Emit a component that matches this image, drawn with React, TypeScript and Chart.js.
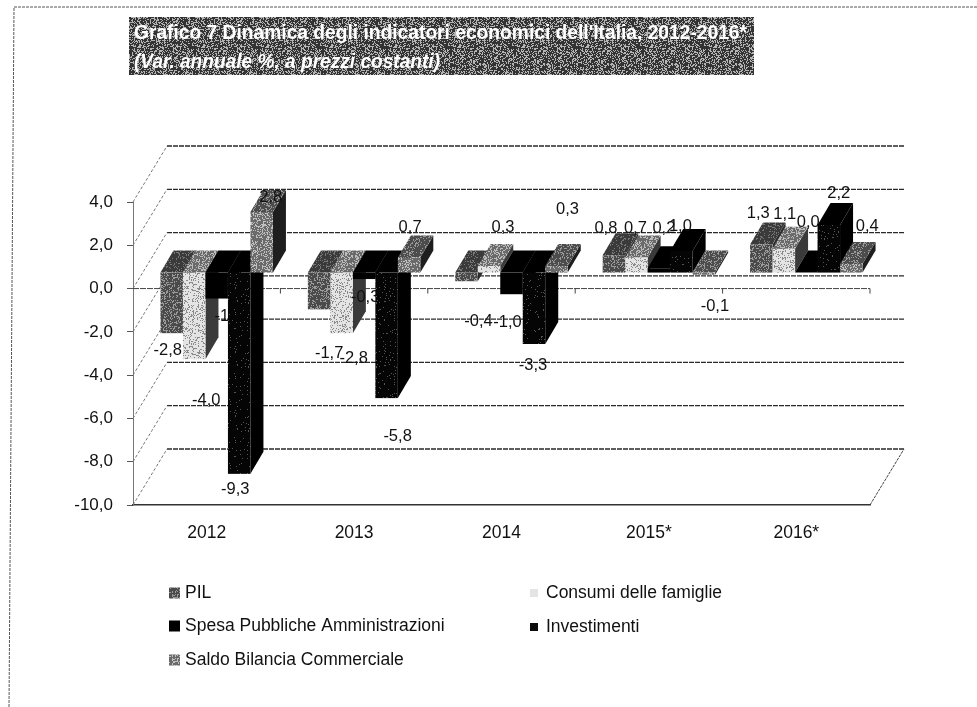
import React, { useEffect, useRef } from "react";
import { Chart, registerables } from "chart.js";

Chart.register(...registerables);

const categories = ["2012", "2013", "2014", "2015*", "2016*"];
const seriesNames = [
  "PIL",
  "Consumi delle famiglie",
  "Spesa Pubbliche Amministrazioni",
  "Investimenti",
  "Saldo Bilancia Commerciale",
];
const pil = [-2.8, -1.7, -0.4, 0.8, 1.3];
const consumi = [-4.0, -2.8, 0.3, 0.7, 1.1];
const spesa = [-1.2, -0.3, -1.0, 0.2, 0.0];
const investimenti = [-9.3, -5.8, -3.3, 1.0, 2.2];
const saldo = [2.8, 0.7, 0.3, -0.1, 0.4];
const seriesValues = [pil, consumi, spesa, investimenti, saldo];

const titleLine1 = "Grafico 7 Dinamica degli indicatori economici dell'Italia, 2012-2016*";
const titleLine2 = "(Var. annuale %, a prezzi costanti)";

// Label nudges [dx, dy] from each bar's end, per series then category
const labelNudges: number[][][] = [
  [[-4, 17], [10, 44], [12, 40], [-8, -27], [-3, -31]],
  [[12, 41], [12, 25], [14, -39], [-1, -29], [1, -34]],
  [[12, 18], [1, 18], [-4, 28], [5, -40], [2, -50]],
  [[-4, 16], [11, 38], [-1, 21], [-1, -24], [10, -32]],
  [[9, -15], [1, -30], [11, -57], [11, 32], [16, -37]],
];

const FONT = '"Liberation Sans", Arial, sans-serif';
const WALL = { dx: 34, dy: 56 };
const BAR_FRONT = { dx: 10, dy: 16 };
const BAR_DEPTH = { dx: 13, dy: 22 };

function hash(x: number, y: number) {
  const v = Math.sin(x * 127.1 + y * 311.7) * 43758.5453;
  return v - Math.floor(v);
}

function speckle(base: string, fleck: string, density: number) {
  const c = document.createElement("canvas");
  c.width = 64;
  c.height = 64;
  const g = c.getContext("2d")!;
  g.fillStyle = base;
  g.fillRect(0, 0, 64, 64);
  g.fillStyle = fleck;
  for (let y = 0; y < 64; y++)
    for (let x = 0; x < 64; x++) if (hash(x, y) < density) g.fillRect(x, y, 1, 1);
  return c;
}

const fmt = (v: number) => v.toFixed(1).replace(".", ",");

function poly(ctx: CanvasRenderingContext2D, pts: number[][], fill: any) {
  ctx.fillStyle = fill;
  ctx.beginPath();
  pts.forEach((p, i) => (i ? ctx.lineTo(p[0], p[1]) : ctx.moveTo(p[0], p[1])));
  ctx.closePath();
  ctx.fill();
}

const makeScene = (faces: any[], bannerFill: any) => ({
  id: "scene3d",
  beforeDatasetsDraw(chart: any) {
    const ctx: CanvasRenderingContext2D = chart.ctx;
    const { x, y } = chart.scales;
    const L = x.left;
    const R = x.right;
    ctx.save();
    // page frame
    ctx.strokeStyle = "#555";
    ctx.lineWidth = 1;
    ctx.setLineDash([3, 1]);
    ctx.beginPath();
    ctx.moveTo(977, 7);
    ctx.lineTo(14, 7);
    ctx.lineTo(9, 707);
    ctx.stroke();

    // back wall lines and diagonals
    y.ticks.forEach((t: any) => {
      const py = y.getPixelForValue(t.value);
      ctx.setLineDash([5, 1]);
      ctx.strokeStyle = "#2a2a2a";
      ctx.lineWidth = 1.3;
      ctx.beginPath();
      ctx.moveTo(L + WALL.dx, py - WALL.dy);
      ctx.lineTo(R + WALL.dx, py - WALL.dy);
      ctx.stroke();
      ctx.setLineDash([3, 2]);
      ctx.strokeStyle = "#777";
      ctx.lineWidth = 1;
      ctx.beginPath();
      ctx.moveTo(L, py);
      ctx.lineTo(L + WALL.dx, py - WALL.dy);
      ctx.stroke();
    });
    // floor right edge
    ctx.setLineDash([3, 1]);
    ctx.strokeStyle = "#444";
    ctx.beginPath();
    ctx.moveTo(R, y.bottom);
    ctx.lineTo(R + WALL.dx, y.bottom - WALL.dy);
    ctx.stroke();
    // zero axis with ticks
    const y0 = y.getPixelForValue(0);
    ctx.setLineDash([6, 1]);
    ctx.strokeStyle = "#444";
    ctx.beginPath();
    ctx.moveTo(L, y0);
    ctx.lineTo(R, y0);
    ctx.stroke();
    ctx.setLineDash([]);
    const step = (R - L) / categories.length;
    for (let i = 1; i <= categories.length; i++) {
      ctx.beginPath();
      ctx.moveTo(L + step * i, y0);
      ctx.lineTo(L + step * i, y0 + 5);
      ctx.stroke();
    }
    ctx.restore();

    // title banner
    ctx.save();
    ctx.fillStyle = bannerFill;
    ctx.fillRect(129, 17, 625, 58);
    ctx.fillStyle = "#fff";
    ctx.textBaseline = "middle";
    ctx.textAlign = "left";
    ctx.font = `bold 21px ${FONT}`;
    ctx.fillText(titleLine1, 134, 33, 613);
    ctx.font = `italic bold 21px ${FONT}`;
    ctx.fillText(titleLine2, 134, 62, 306);
    ctx.restore();

    // legend
    const rows = [
      [0, 169, 593],
      [1, 530, 593],
      [2, 169, 626],
      [3, 530, 627],
      [4, 169, 660],
    ];
    ctx.save();
    ctx.font = `17.5px ${FONT}`;
    ctx.textBaseline = "middle";
    ctx.textAlign = "left";
    rows.forEach(([i, lx, ly]) => {
      const column2 = lx > 300;
      ctx.fillStyle = i === 1 ? "#e4e4e4" : i === 0 || i === 4 ? faces[i].front : chart.data.datasets[i].backgroundColor;
      const size = column2 ? 8 : 11;
      ctx.fillRect(lx, ly - size / 2, size, size);
      ctx.fillStyle = "#111";
      ctx.fillText(chart.data.datasets[i].label, column2 ? 546 : 185, ly);
    });
    ctx.restore();
  },
  beforeDatasetDraw() {
    return false;
  },
  afterDatasetsDraw(chart: any) {
    const ctx: CanvasRenderingContext2D = chart.ctx;
    const y = chart.scales.y;
    const y0 = y.getPixelForValue(0) - BAR_FRONT.dy;
    chart.data.datasets.forEach((ds: any, s: number) => {
      const meta = chart.getDatasetMeta(s);
      meta.data.forEach((el: any, c: number) => {
        const xl = el.x - el.width / 2 + BAR_FRONT.dx;
        const xr = xl + el.width;
        const end = el.y - BAR_FRONT.dy;
        const top = Math.min(end, y0);
        const bot = Math.max(end, y0);
        const d = BAR_DEPTH;
        const f = faces[s];
        poly(ctx, [[xr, top], [xr + d.dx, top - d.dy], [xr + d.dx, bot - d.dy], [xr, bot]], f.side);
        poly(ctx, [[xl, top], [xr, top], [xr + d.dx, top - d.dy], [xl + d.dx, top - d.dy]], f.top);
        if (bot - top > 0.5) {
          ctx.fillStyle = f.front;
          ctx.fillRect(xl, top, el.width, bot - top);
        }
        const v = ds.data[c];
        const [nx, ny] = labelNudges[s][c];
        ctx.save();
        ctx.fillStyle = "#111";
        ctx.font = `16.5px ${FONT}`;
        ctx.textAlign = "center";
        ctx.textBaseline = "middle";
        ctx.fillText(fmt(v), (xl + xr) / 2 + nx, end + ny);
        ctx.restore();
      });
    });
  },
});

export default function App() {
  const ref = useRef<HTMLCanvasElement>(null);
  useEffect(() => {
    const canvas = ref.current!;
    const ctx = canvas.getContext("2d")!;
    const pat = (b: string, f: string, d: number) => ctx.createPattern(speckle(b, f, d), "repeat")!;
    const faces = [
      { front: pat("#4a4a4a", "#9a9a9a", 0.3), top: pat("#3a3a3a", "#777", 0.2), side: "#2c2c2c" },
      { front: pat("#e4e4e4", "#8a8a8a", 0.22), top: pat("#6a6a6a", "#bbb", 0.35), side: "#3a3a3a" },
      { front: "#000", top: "#000", side: "#000" },
      { front: pat("#050505", "#555", 0.05), top: "#000", side: "#000" },
      { front: pat("#6a6a6a", "#c0c0c0", 0.3), top: pat("#4c4c4c", "#999", 0.25), side: "#1e1e1e" },
    ];
    const chart: any = new Chart(canvas, {
      type: "bar",
      data: {
        labels: categories,
        datasets: seriesNames.map((label, i) => ({
          label,
          data: seriesValues[i],
          backgroundColor: ["#4d4d4d", "#d0d0d0", "#000000", "#0c0c0c", "#6e6e6e"][i],
          categoryPercentage: 0.763,
          barPercentage: 1,
        })),
      },
      options: {
        responsive: false,
        animation: false,
        layout: { padding: { top: 202, right: 107, left: 0, bottom: 0 } },
        plugins: { legend: { display: false }, title: { display: false }, tooltip: { enabled: false } },
        scales: {
          x: {
            grid: { display: false },
            border: { display: true, color: "#333", width: 1.5, dash: [6, 1] },
            ticks: { font: { family: FONT, size: 17.5 }, color: "#111", padding: 10, maxRotation: 0 },
            afterFit: (s: any) => {
              s.height = 707 - 505;
            },
          },
          y: {
            min: -10,
            max: 4,
            grid: { drawOnChartArea: false, drawTicks: true, tickLength: 6, color: "#555" },
            border: { display: true, color: "#777", dash: [3, 2] },
            ticks: {
              stepSize: 2,
              padding: 14,
              font: { family: FONT, size: 17 },
              color: "#111",
              callback: (v: any) => fmt(Number(v)),
            },
            afterFit: (s: any) => {
              s.width = 133;
            },
          },
        },
      },
      plugins: [makeScene(faces, pat("#333333", "#b4b4b4", 0.36))],
    } as any);
    return () => chart.destroy();
  }, []);
  return (
    <canvas
      ref={ref}
      width={977}
      height={707}
      style={{ position: "absolute", left: 0, top: 0, display: "block" }}
    />
  );
}
